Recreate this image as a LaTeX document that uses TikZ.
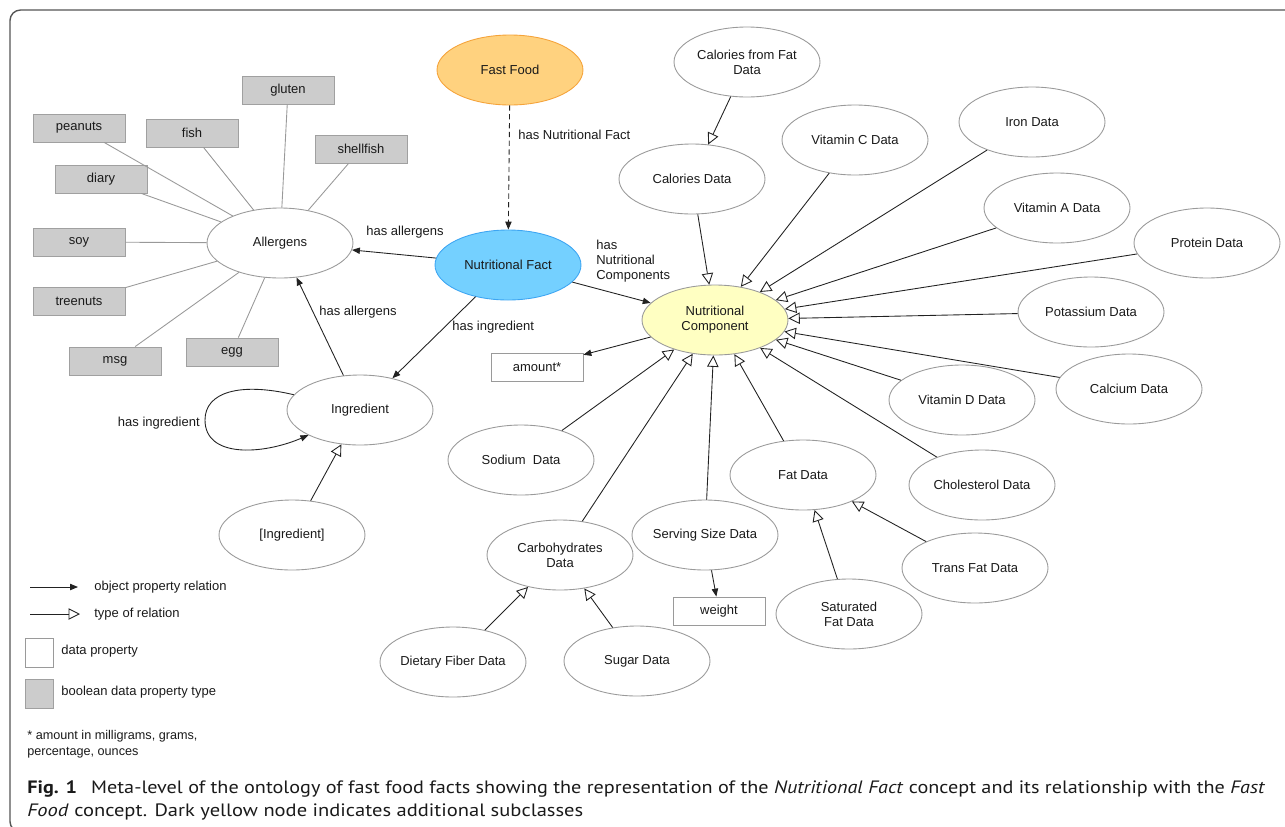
\documentclass[tikz,border=0pt]{standalone}
\usepackage{fontspec}
\setmainfont{Liberation Sans}
\newfontfamily\capfont{PT Sans}
\usepackage{graphicx}
\usetikzlibrary{shapes.geometric,arrows.meta}
\definecolor{ellgray}{HTML}{9A9A9A}
\definecolor{boxgray}{HTML}{A0A0A0}
\definecolor{boxfill}{HTML}{CCCCCC}
\definecolor{lnk}{HTML}{222222}
\definecolor{lingray}{HTML}{999999}
\definecolor{txt}{HTML}{1A1A1A}
\definecolor{fffill}{HTML}{FFD27F}
\definecolor{ffdraw}{HTML}{F5A33A}
\definecolor{nffill}{HTML}{74D0FF}
\definecolor{nfdraw}{HTML}{3DA5F2}
\definecolor{ncfill}{HTML}{FFFFC2}
\definecolor{framecol}{HTML}{555555}
\begin{document}
\begin{tikzpicture}[x=0.02cm,y=-0.02cm,
  font=\fontsize{7.4}{8.6}\selectfont,
  ell/.style={ellipse, draw=ellgray, line width=0.5pt, fill=white, minimum width=2.92cm, minimum height=1.4cm, inner xsep=-12pt, inner ysep=0pt, align=center, text=txt},
  gbox/.style={rectangle, draw=boxgray, line width=0.5pt, fill=boxfill, minimum width=1.84cm, minimum height=0.56cm, inner sep=0pt, text=txt},
  wbox/.style={rectangle, draw=ellgray, line width=0.5pt, fill=white, minimum width=1.84cm, minimum height=0.56cm, inner sep=0pt, text=txt},
  obj/.style={draw=lnk, line width=0.5pt, -{Triangle[length=4.5pt,width=3.6pt]}},
  typ/.style={draw=lnk, line width=0.5pt, -{Triangle[open,length=6.5pt,width=6.5pt,fill=white]}},
  plainln/.style={draw=lingray, line width=0.5pt},
  lbl/.style={inner sep=0pt, text=txt, align=left},
  sq/.style={rectangle, line width=0.5pt, minimum width=0.56cm, minimum height=0.58cm, inner sep=0pt}]
\useasboundingbox (0,0) rectangle (1285,826);
\clip (0,0) rectangle (1285,826);
\draw[framecol, line width=0.8pt, rounded corners=6pt] (10,10) rectangle (1310,832);

% main nodes
\node[ell, fill=fffill, draw=ffdraw] (ff) at (510,70) {Fast Food};
\node[ell, fill=nffill, draw=nfdraw] (nf) at (508,265) {Nutritional Fact};
\node[ell, fill=ncfill] (nc) at (715,320) {Nutritional\\Component};
\node[ell] (all) at (280,243) {Allergens};
\node[ell] (ing) at (360,410) {Ingredient};
\node[ell] (ing2) at (292,535) {[Ingredient]};

% allergen boxes
\node[gbox] (gluten) at (288,90) {gluten};
\node[gbox] (peanuts) at (79,128) {peanuts};
\node[gbox] (fish) at (192,133) {fish};
\node[gbox] (shellfish) at (361,149) {shellfish};
\node[gbox] (diary) at (101,179) {diary};
\node[gbox] (soy) at (79,242) {soy};
\node[gbox] (treenuts) at (79,301) {treenuts};
\node[gbox] (msg) at (115,361) {msg};
\node[gbox] (egg) at (232,352) {egg};

% component nodes
\node[ell] (cff) at (747,62) {Calories from Fat\\Data};
\node[ell] (cal) at (692,179) {Calories Data};
\node[ell] (vc) at (855,140) {Vitamin C Data};
\node[ell] (iron) at (1032,122) {Iron Data};
\node[ell] (va) at (1057,208) {Vitamin A Data};
\node[ell] (prot) at (1207,243) {Protein Data};
\node[ell] (pot) at (1091,312) {Potassium Data};
\node[ell] (calc) at (1129,389) {Calcium Data};
\node[ell] (vd) at (962,400) {Vitamin D Data};
\node[ell] (chol) at (982,485) {Cholesterol Data};
\node[ell] (fat) at (803,475) {Fat Data};
\node[ell] (trans) at (975,568) {Trans Fat Data};
\node[ell] (sat) at (849,614) {Saturated\\Fat Data};
\node[ell] (serv) at (705,535) {Serving Size Data};
\node[wbox] (weight) at (719,611) {weight};
\node[ell] (carb) at (560,555) {Carbohydrates\\Data};
\node[ell] (fib) at (453,662) {Dietary Fiber Data};
\node[ell] (sug) at (637,661) {Sugar Data};
\node[ell] (sod) at (521,460) {Sodium~ Data};
\node[wbox] (amt) at (537,367) {amount*};

% allergen lines
\foreach \b in {gluten,peanuts,fish,shellfish,diary,soy,treenuts,msg,egg}
  \draw[plainln] (\b) -- (all);

% object property relations
\draw[obj, dashed, dash pattern=on 3pt off 2pt] (ff) -- (nf);
\draw[obj] (nf) -- (all);
\draw[obj] (nf) -- (nc);
\draw[obj] (nf) -- (ing);
\draw[obj] (ing) -- (all);
\draw[obj] (nc) -- (amt);
\draw[obj] (serv) -- (weight);
\draw[obj] (ing.167) .. controls (240,382) and (205,392) .. (205,420) .. controls (205,458) and (262,455) .. (ing.206);

% type relations
\foreach \c in {cal,vc,iron,va,prot,pot,calc,vd,chol,fat,serv,carb,sod}
  \draw[typ] (\c) -- (nc);
\draw[typ] (cff) -- (cal);
\draw[typ] (sat) -- (fat);
\draw[typ] (trans) -- (fat);
\draw[typ] (fib) -- (carb);
\draw[typ] (sug) -- (carb);
\draw[typ] (ing2) -- (ing);

% edge labels
\node[lbl, anchor=west] (l1) at (518,135) {has Nutritional Fact};
\node[lbl] (l2) at (405,232) {has allergens};
\node[lbl, anchor=west] (l3) at (596,261) {has\\Nutritional\\Components};
\node[lbl, anchor=west] (l4) at (452,327) {has ingredient};
\node[lbl, anchor=west] (l5) at (319,312) {has allergens};
\node[lbl, anchor=east] (l6) at (200,423) {has ingredient};

% legend
\coordinate (lga) at (30,587);
\coordinate (lgb) at (78,587);
\coordinate (lgc) at (30,614);
\coordinate (lgd) at (80,614);
\draw[obj] (lga) -- (lgb);
\draw[typ] (lgc) -- (lgd);
\node[lbl, anchor=west] (lt1) at (94,587) {object property relation};
\node[lbl, anchor=west] (lt2) at (94,614) {type of relation};
\node[sq, draw=ellgray, fill=white] (sqw) at (39,653) {};
\node[sq, draw=boxgray, fill=boxfill] (sqg) at (39,694) {};
\node[lbl, anchor=west] (lt3) at (61,651) {data property};
\node[lbl, anchor=west] (lt4) at (61,692) {boolean data property type};
\node[lbl, anchor=west, font=\fontsize{7.2}{9.1}\selectfont] (fn) at (27,744) {* amount in milligrams, grams,\\percentage, ounces};

% caption
\node[inner sep=0pt, anchor=base west, text=txt, font=\capfont\fontsize{10.2}{12}\selectfont] (cap1) at (27,793)
  {\resizebox{24.76cm}{\height}{\textbf{Fig. 1}\hspace{0.7em}Meta-level of the ontology of fast food facts showing the representation of the \textit{Nutritional Fact} concept and its relationship with the \textit{Fast}}};
\node[inner sep=0pt, anchor=base west, text=txt, font=\capfont\fontsize{10.2}{12}\selectfont] (cap2) at (27,816)
  {\resizebox{11.12cm}{\height}{\textit{Food} concept. Dark yellow node indicates additional subclasses}};
\end{tikzpicture}
\end{document}
